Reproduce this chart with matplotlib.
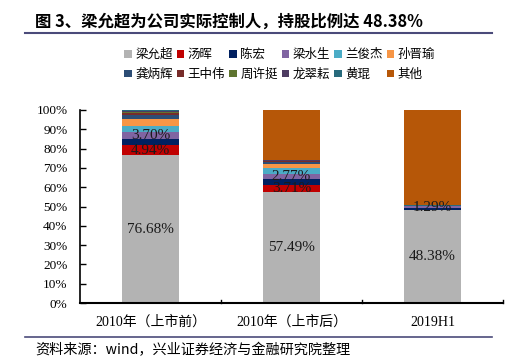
import matplotlib
matplotlib.use("Agg")
import matplotlib.pyplot as plt
from matplotlib.patches import Patch
from matplotlib.lines import Line2D
import numpy as np

plt.rcParams['font.family'] = ['Liberation Serif', 'Noto Sans CJK SC', 'DejaVu Sans']

categories = ['2010年（上市前）', '2010年（上市后）', '2019H1']
holders = ['梁允超', '汤晖', '陈宏', '梁水生', '兰俊杰', '孙晋瑜',
           '龚炳辉', '王中伟', '周许挺', '龙翠耘', '黄琨', '其他']
colors = ['#B3B3B3', '#C00000', '#002060', '#8064A2', '#4BACC6', '#F79646',
          '#2C4D75', '#772C2A', '#5F7530', '#4D3B62', '#276A7C', '#B65708']

liang_yunchao = [76.68, 57.49, 48.38]
tang_hui      = [4.94, 3.71, 0.0]
chen_hong     = [3.50, 2.80, 0.70]
liang_shuisheng = [3.70, 2.77, 1.29]
lan_junjie    = [3.00, 3.00, 0.0]
sun_jinyu     = [3.50, 2.20, 0.0]
gong_binghui  = [2.10, 1.30, 0.0]
wang_zhongwei = [0.80, 0.40, 0.0]
zhou_xuting   = [0.70, 0.10, 0.0]
long_cuiyun   = [0.50, 0.10, 0.0]
huang_kun     = [0.40, 0.10, 0.50]
others        = [0.18, 26.03, 49.13]

series = [liang_yunchao, tang_hui, chen_hong, liang_shuisheng, lan_junjie, sun_jinyu,
          gong_binghui, wang_zhongwei, zhou_xuting, long_cuiyun, huang_kun, others]
# labels shown: holder index -> per-category flags
label_series = {0: [True, True, True], 1: [True, True, False], 3: [True, True, True]}

fig = plt.figure(figsize=(5.08, 3.59), dpi=100)
ax = fig.add_axes([80/508, 56/359, 423/508, 193/359])

x = np.arange(len(categories))
bottom = np.zeros(len(categories))
for i, (vals, c) in enumerate(zip(series, colors)):
    vals = np.array(vals)
    ax.bar(x, vals, width=0.4, bottom=bottom, color=c, linewidth=0)
    if i in label_series:
        for j in range(len(categories)):
            if label_series[i][j] and vals[j] > 0:
                ax.text(x[j], bottom[j] + vals[j]/2, f'{vals[j]:.2f}%',
                        ha='center', va='center', fontsize=11, color='#1a1a1a',
                        family='Liberation Serif')
    bottom += vals

ax.set_xlim(-0.5, 2.5)
ax.set_ylim(0, 100)
ax.set_yticks(np.arange(0, 101, 10))
ax.set_yticklabels([f'{v}%' for v in range(0, 101, 10)], fontsize=9.5)
ax.tick_params(axis='y', direction='in', length=4, width=1, pad=9)
ax.set_xticks(x)
ax.set_xticklabels(categories, fontsize=10)
ax.tick_params(axis='x', length=0, pad=9)
for b in [0.5, 1.5, 2.5]:
    ax.plot([b, b], [0, 1.6], color='black', lw=1, clip_on=False)
for s in ['top', 'right']:
    ax.spines[s].set_visible(False)
ax.spines['left'].set_linewidth(1.2)
ax.spines['bottom'].set_linewidth(1.5)

# reorder so legend reads row-wise (2 rows x 6 columns)
ncol = 6
order = [r * ncol + cidx for cidx in range(ncol) for r in range(2)]
handles = [Patch(facecolor=colors[k], edgecolor='none') for k in order]
labels = [holders[k] for k in order]
leg = fig.legend(handles, labels, ncol=ncol, loc='upper left',
                 bbox_to_anchor=(119/508, 1 - 43/359), frameon=False,
                 prop={'family': ['Noto Sans CJK SC'], 'size': 9},
                 handlelength=0.6, handleheight=0.6, handletextpad=0.3,
                 columnspacing=0.3, labelspacing=0.55, borderaxespad=0)

fig.text(35/508, 1 - 22/359, '图 3、梁允超为公司实际控制人，持股比例达 48.38%',
         fontsize=11.8, fontweight='bold', va='center', ha='left',
         family=['Noto Sans CJK SC', 'DejaVu Sans'])
fig.add_artist(Line2D([25/508, 492/508], [1 - 33/359, 1 - 33/359],
                      color='#4B4B7A', lw=1.5, transform=fig.transFigure))
fig.add_artist(Line2D([25/508, 492/508], [1 - 337/359, 1 - 337/359],
                      color='#4B4B7A', lw=1.2, transform=fig.transFigure))
fig.text(35/508, 1 - 350/359, '资料来源：wind，兴业证券经济与金融研究院整理',
         fontsize=10.2, va='center', ha='left', family=['Noto Sans CJK SC', 'DejaVu Sans'])

fig.savefig('out.png', dpi=100)
